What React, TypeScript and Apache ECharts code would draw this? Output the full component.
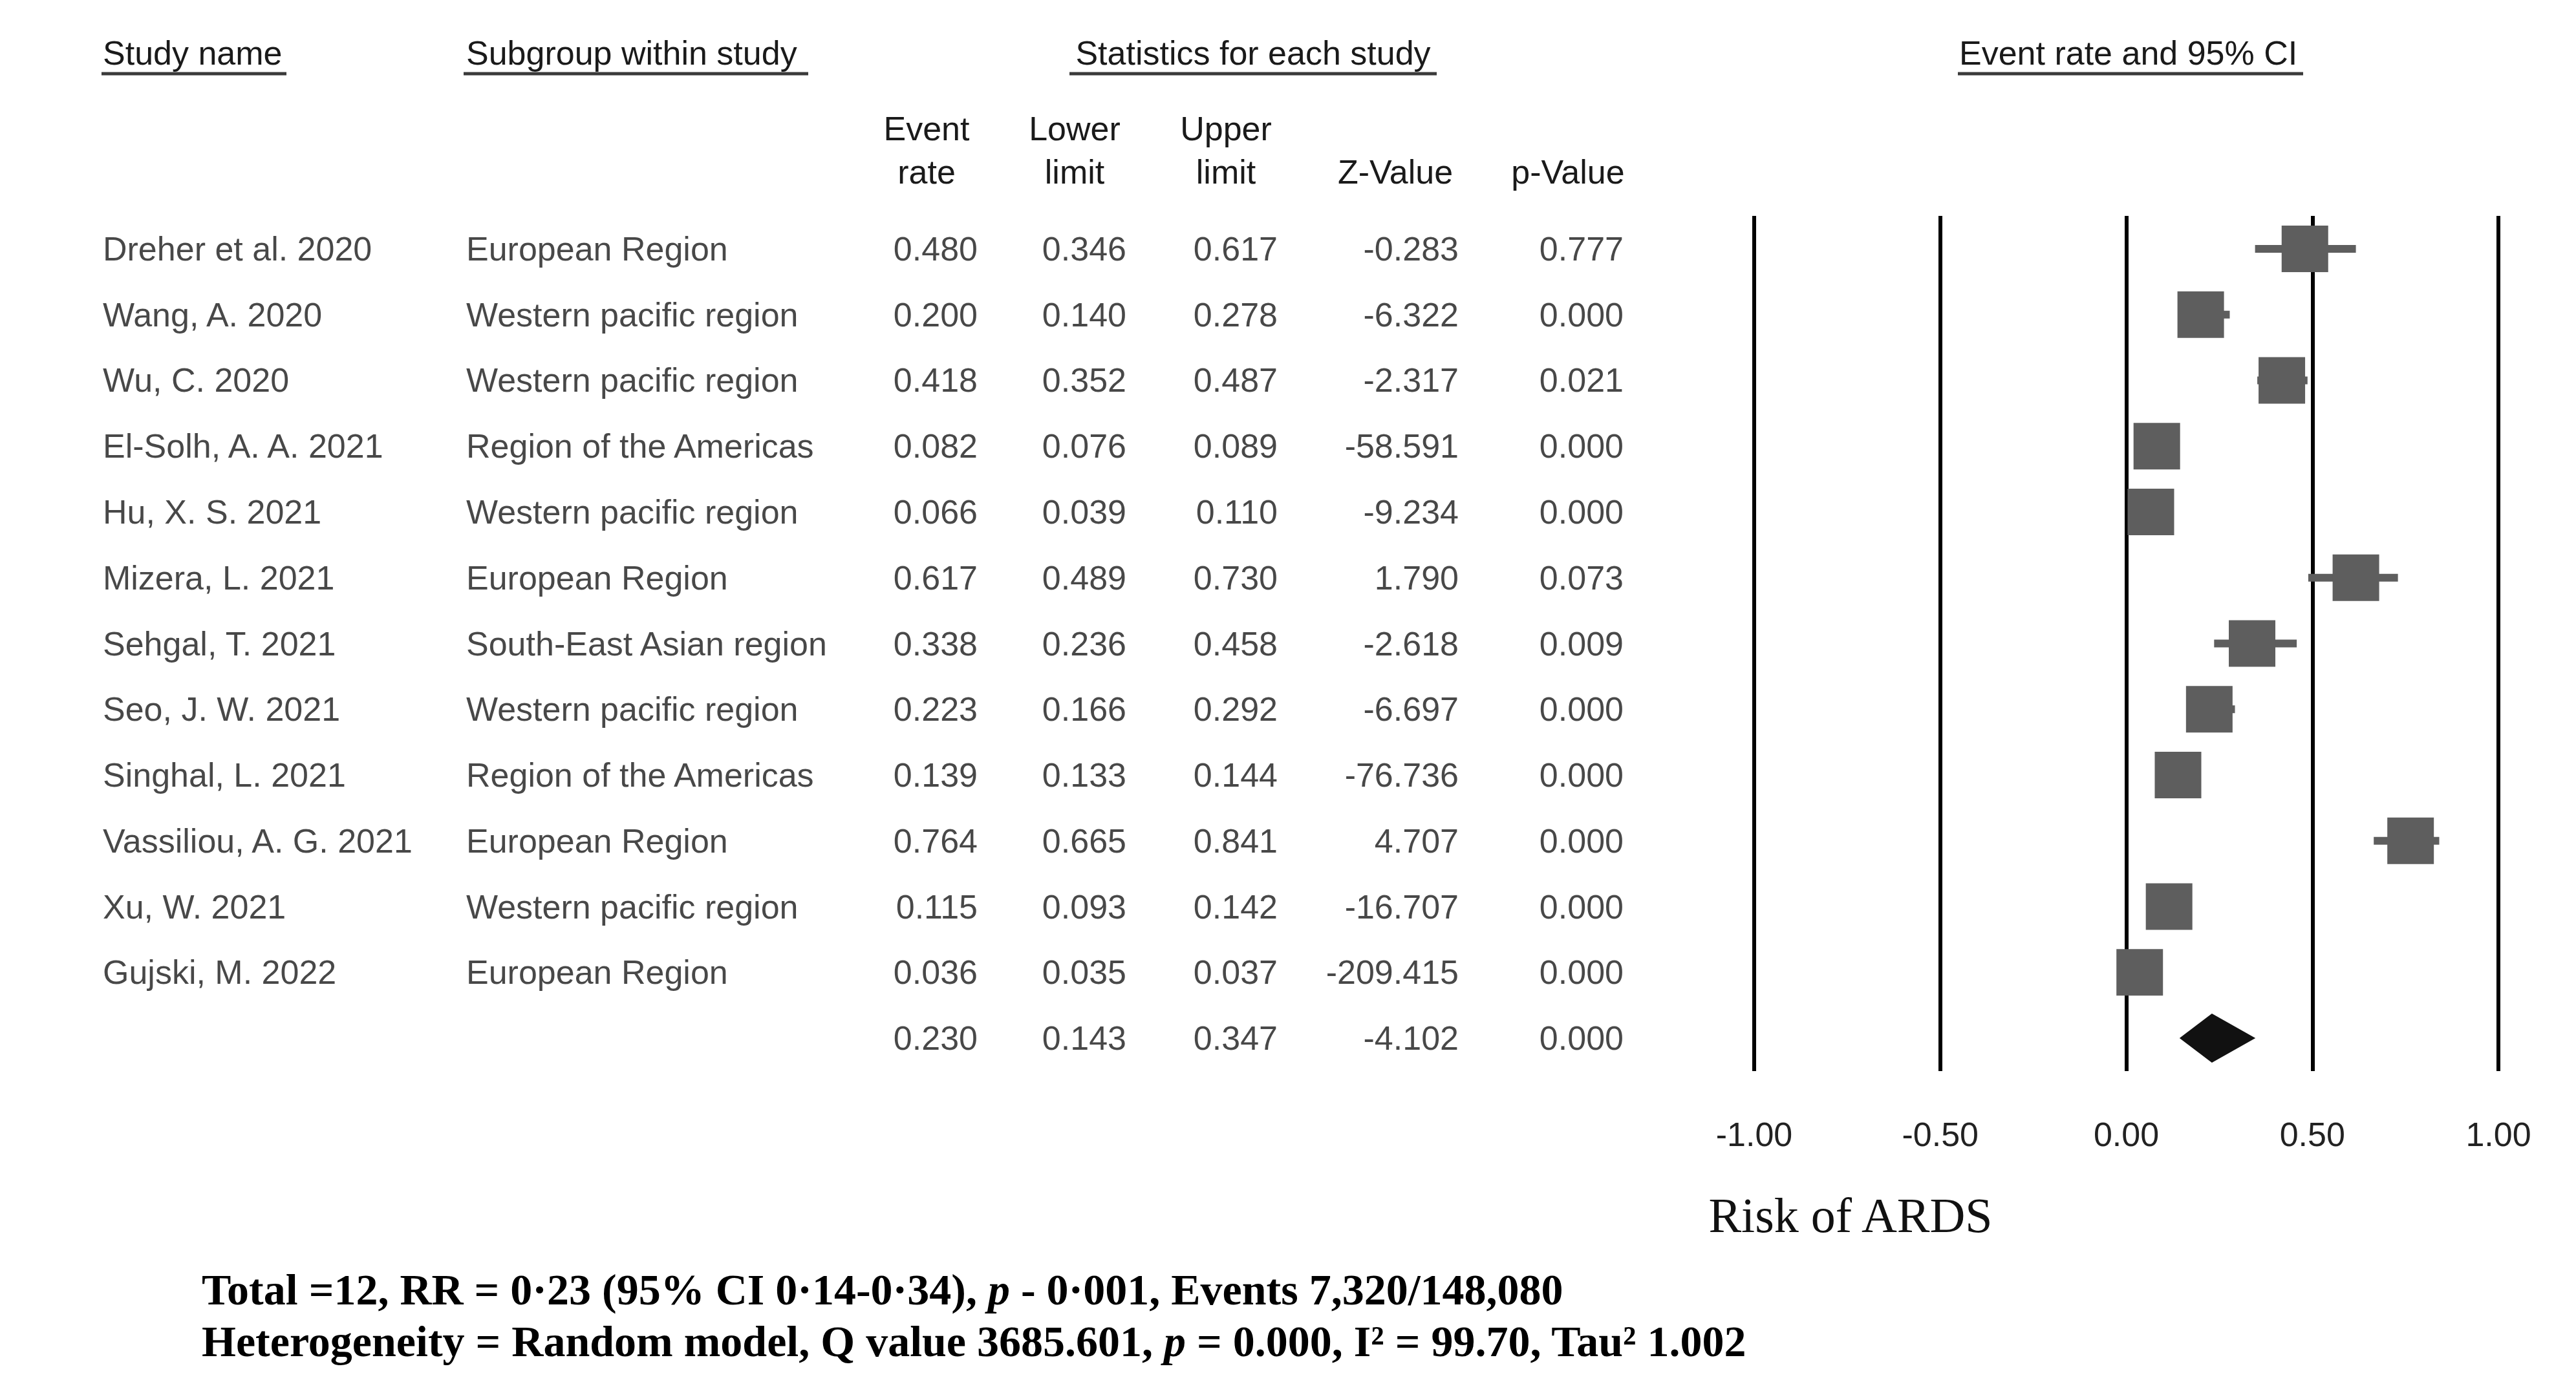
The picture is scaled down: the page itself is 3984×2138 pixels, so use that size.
import React, { useEffect, useRef } from "react";
import * as echarts from "echarts";

const studies = [
  "Dreher et al. 2020",
  "Wang, A. 2020",
  "Wu, C. 2020",
  "El-Solh, A. A. 2021",
  "Hu, X. S. 2021",
  "Mizera, L. 2021",
  "Sehgal, T. 2021",
  "Seo, J. W. 2021",
  "Singhal, L. 2021",
  "Vassiliou, A. G. 2021",
  "Xu, W. 2021",
  "Gujski, M. 2022",
];
const subgroups = [
  "European Region",
  "Western pacific region",
  "Western pacific region",
  "Region of the Americas",
  "Western pacific region",
  "European Region",
  "South-East Asian region",
  "Western pacific region",
  "Region of the Americas",
  "European Region",
  "Western pacific region",
  "European Region",
];
const eventRate = [0.48, 0.2, 0.418, 0.082, 0.066, 0.617, 0.338, 0.223, 0.139, 0.764, 0.115, 0.036];
const lowerLimit = [0.346, 0.14, 0.352, 0.076, 0.039, 0.489, 0.236, 0.166, 0.133, 0.665, 0.093, 0.035];
const upperLimit = [0.617, 0.278, 0.487, 0.089, 0.11, 0.73, 0.458, 0.292, 0.144, 0.841, 0.142, 0.037];
const zValue = [-0.283, -6.322, -2.317, -58.591, -9.234, 1.79, -2.618, -6.697, -76.736, 4.707, -16.707, -209.415];
const pValue = [0.777, 0.0, 0.021, 0.0, 0.0, 0.073, 0.009, 0.0, 0.0, 0.0, 0.0, 0.0];
const summary = { rate: 0.23, lower: 0.143, upper: 0.347, z: -4.102, p: 0.0 };

const xTicks = { min: -1, max: 1, interval: 0.5 };
const groupHeaders = ["Study name", "Subgroup within study", "Statistics for each study", "Event rate and 95% CI"];
const colHeaderLine1 = ["Event", "Lower", "Upper", "", ""];
const colHeaderLine2 = ["rate", "limit", "limit", "Z-Value", "p-Value"];
const axisTitle = "Risk of ARDS";
const footnote1 = ["Total =12, RR = 0·23 (95% CI 0·14-0·34), ", "p", " - 0·001, Events 7,320/148,080"];
const footnote2 = ["Heterogeneity = Random model, Q value 3685.601, ", "p", " = 0.000, I² = 99.70, Tau² 1.002"];

const SANS = "'Liberation Sans', Arial, sans-serif";
const SERIF = "'Liberation Serif', 'Times New Roman', serif";
const TXT = "#1a1a1a";
const FS = 52;

export default function App() {
  const ref = useRef<HTMLDivElement>(null);
  useEffect(() => {
    if (!ref.current) return;
    const chart = echarts.init(ref.current, undefined, { renderer: "svg" });

    const top = 334;
    const bottom = 2138 - 1657;
    const nRows = studies.length + 1;
    const yAxisCommon = {
      type: "value",
      min: -0.5,
      max: nRows - 0.5,
      inverse: true,
      show: false,
    };

    const colDefs: { x: number; align: string; vals: string[] }[] = [
      { x: 159, align: "left", vals: studies },
      { x: 721, align: "left", vals: subgroups },
      { x: 1512, align: "right", vals: [...eventRate, summary.rate].map((v) => v.toFixed(3)) },
      { x: 1742, align: "right", vals: [...lowerLimit, summary.lower].map((v) => v.toFixed(3)) },
      { x: 1976, align: "right", vals: [...upperLimit, summary.upper].map((v) => v.toFixed(3)) },
      { x: 2256, align: "right", vals: [...zValue, summary.z].map((v) => v.toFixed(3)) },
      { x: 2511, align: "right", vals: [...pValue, summary.p].map((v) => v.toFixed(3)) },
    ];
    const tableSeries = colDefs.map((c) => ({
      type: "scatter",
      xAxisIndex: 0,
      yAxisIndex: 0,
      symbolSize: 1,
      silent: true,
      itemStyle: { color: "rgba(0,0,0,0)" },
      data: c.vals.map((v, i) => ({ value: [c.x, i], name: v })),
      label: {
        show: true,
        position: "inside",
        align: c.align,
        verticalAlign: "middle",
        formatter: (p: any) => p.name,
        fontFamily: SANS,
        fontSize: FS,
        color: TXT,
      },
    }));

    const studyData = eventRate.map((e, i) => [i, lowerLimit[i], e, upperLimit[i]]);
    const SQ = 72;

    const headerCenters = [1433, 1662, 1896, 2158, 2425];
    const graphics: any[] = [];
    const hdr = [
      { x: 159, align: "left", x1: 157, x2: 443 },
      { x: 721, align: "left", x1: 717, x2: 1250 },
      { x: 1938, align: "center", x1: 1654, x2: 2222 },
      { x: 3030, align: "left", x1: 3028, x2: 3562 },
    ];
    hdr.forEach((h, k) => {
      graphics.push({
        type: "text",
        x: h.x,
        y: 82,
        style: { text: groupHeaders[k], fontFamily: SANS, fontSize: FS, fill: TXT, align: h.align, verticalAlign: "middle" },
      });
      graphics.push({
        type: "line",
        shape: { x1: h.x1, y1: 114, x2: h.x2, y2: 114 },
        style: { stroke: "#3a3a3a", lineWidth: 5 },
      });
    });
    headerCenters.forEach((cx, k) => {
      if (colHeaderLine1[k])
        graphics.push({
          type: "text",
          x: cx,
          y: 199,
          style: { text: colHeaderLine1[k], fontFamily: SANS, fontSize: FS, fill: TXT, align: "center", verticalAlign: "middle" },
        });
      graphics.push({
        type: "text",
        x: cx,
        y: 266,
        style: { text: colHeaderLine2[k], fontFamily: SANS, fontSize: FS, fill: TXT, align: "center", verticalAlign: "middle" },
      });
    });
    graphics.push({
      type: "text",
      x: 2862,
      y: 1880,
      style: { text: axisTitle, fontFamily: SERIF, fontSize: 76, fill: "#111", align: "center", verticalAlign: "middle" },
    });
    const foot = (parts: string[], y: number) => ({
      type: "text",
      x: 312,
      y,
      style: {
        text: `{b|${parts[0]}}{i|${parts[1]}}{b|${parts[2]}}`,
        align: "left",
        verticalAlign: "middle",
        rich: {
          b: { fontFamily: SERIF, fontSize: 68, fontWeight: "bold", fill: "#000", color: "#000" },
          i: { fontFamily: SERIF, fontSize: 68, fontWeight: "bold", fontStyle: "italic", fill: "#000", color: "#000" },
        },
      },
    });
    graphics.push(foot(footnote1, 1995));
    graphics.push(foot(footnote2, 2075));

    chart.setOption({
      animation: false,
      backgroundColor: "#fff",
      grid: [
        { left: 0, right: 0, top, bottom },
        { left: 2713, right: 3984 - 3864, top, bottom },
      ],
      xAxis: [
        { type: "value", gridIndex: 0, min: 0, max: 3984, show: false },
        {
          type: "value",
          gridIndex: 1,
          min: xTicks.min,
          max: xTicks.max,
          interval: xTicks.interval,
          axisLine: { show: false },
          axisTick: { show: false },
          splitLine: { show: true, lineStyle: { color: "#000", width: 6 } },
          axisLabel: {
            formatter: (v: number) => v.toFixed(2),
            fontFamily: SANS,
            fontSize: FS,
            color: "#222",
            margin: 72,
          },
        },
      ],
      yAxis: [
        { ...yAxisCommon, gridIndex: 0 },
        { ...yAxisCommon, gridIndex: 1 },
      ],
      series: [
        ...tableSeries,
        {
          type: "custom",
          xAxisIndex: 1,
          yAxisIndex: 1,
          silent: true,
          encode: { x: [1, 2, 3], y: 0 },
          data: studyData,
          renderItem: (params: any, api: any) => {
            const i = api.value(0);
            const pl = api.coord([api.value(1), i]);
            const pe = api.coord([api.value(2), i]);
            const pu = api.coord([api.value(3), i]);
            return {
              type: "group",
              children: [
                {
                  type: "line",
                  shape: { x1: pl[0], y1: pl[1], x2: pu[0], y2: pu[1] },
                  style: { stroke: "#5e5e5e", lineWidth: 12 },
                },
                {
                  type: "rect",
                  shape: { x: pe[0] - SQ / 2, y: pe[1] - SQ / 2, width: SQ, height: SQ },
                  style: { fill: "#5e5e5e" },
                },
              ],
            };
          },
        },
        {
          type: "custom",
          xAxisIndex: 1,
          yAxisIndex: 1,
          silent: true,
          encode: { x: [1, 2, 3], y: 0 },
          data: [[studies.length, summary.lower, summary.rate, summary.upper]],
          renderItem: (params: any, api: any) => {
            const i = api.value(0);
            const pl = api.coord([api.value(1), i]);
            const pe = api.coord([api.value(2), i]);
            const pu = api.coord([api.value(3), i]);
            const h = 38;
            return {
              type: "polygon",
              shape: {
                points: [
                  [pl[0], pl[1]],
                  [pe[0], pe[1] - h],
                  [pu[0], pu[1]],
                  [pe[0], pe[1] + h],
                ],
              },
              style: { fill: "#111" },
            };
          },
        },
      ],
      graphic: graphics,
    });

    return () => chart.dispose();
  }, []);

  return (
    <div
      ref={ref}
      style={{ position: "fixed", left: 0, top: 0, width: 3984, height: 2138, background: "#fff" }}
    />
  );
}
